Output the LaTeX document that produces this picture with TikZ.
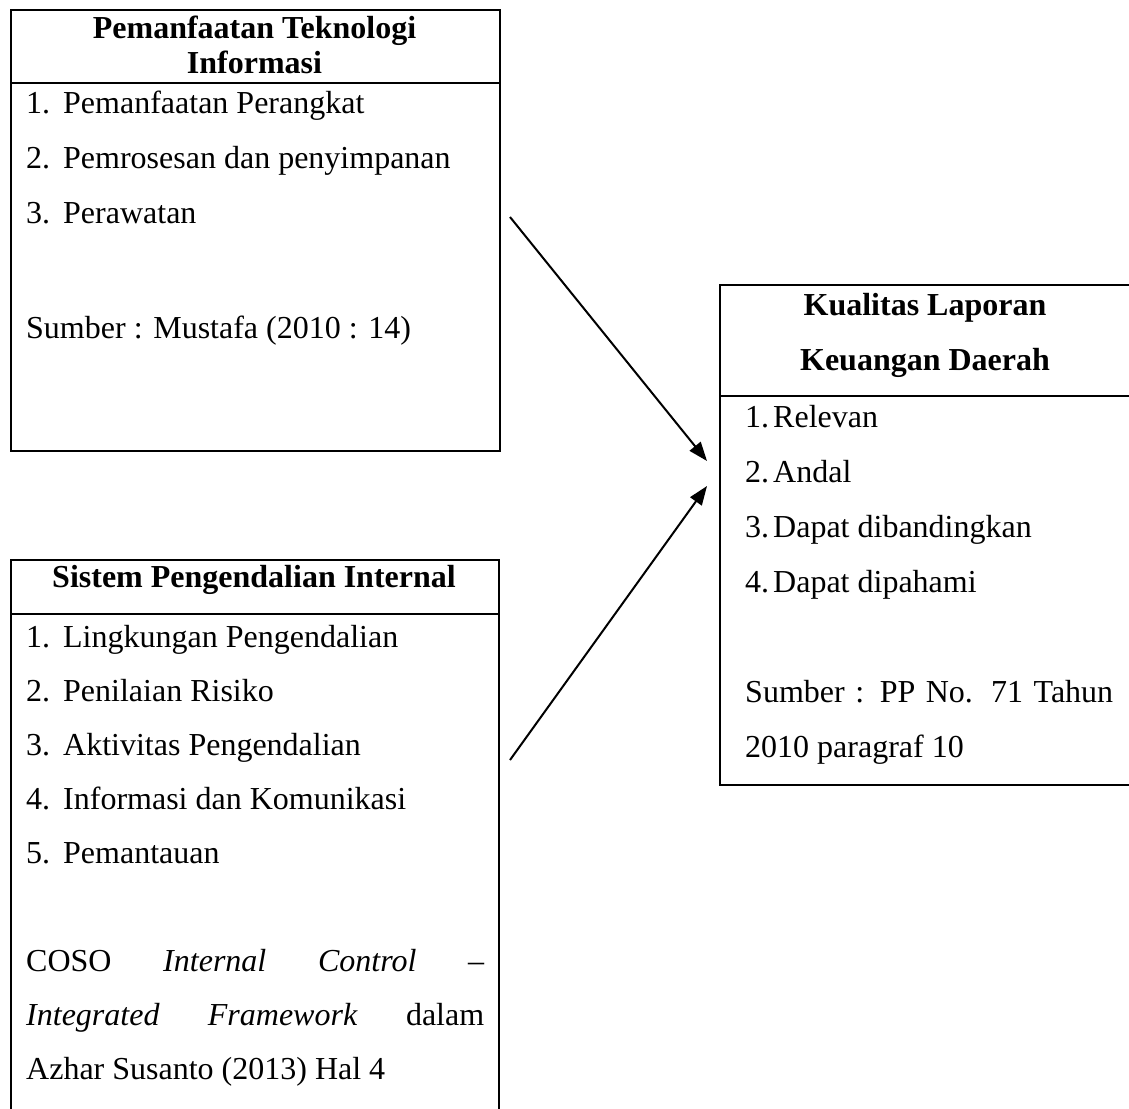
\documentclass[tikz,border=0pt]{standalone}
\usepackage{fontspec}
\setmainfont{Liberation Serif}
\usetikzlibrary{arrows.meta}
\begin{document}
\begin{tikzpicture}[x=1pt,y=-1pt,
  box/.style={draw,line width=2pt,rectangle,inner sep=0pt,anchor=north west},
  divline/.style={line width=2pt},
  txt/.style={inner sep=0pt,anchor=base west,font=\fontsize{32}{38}\selectfont},
  ttl/.style={inner sep=0pt,anchor=base,font=\fontsize{32}{38}\selectfont\bfseries},
  arr/.style={line width=2pt,-{Triangle[length=19pt,width=14pt]}}]
\useasboundingbox (0,0) rectangle (1129,1108);
\begin{scope}
\clip (0,0) rectangle (1129,1108);
% boxes
\node[box,minimum width=489pt,minimum height=441pt] (ti) at (10,9) {};
\node[box,minimum width=488pt,minimum height=581pt] (spi) at (10,559) {};
\node[box,minimum width=420pt,minimum height=500pt] (klk) at (719,284) {};
\draw[divline] ([yshift=-74pt]ti.north west) -- ([yshift=-74pt]ti.north east);
\draw[divline] ([yshift=-55pt]spi.north west) -- ([yshift=-55pt]spi.north east);
\draw[divline] ([yshift=-112pt]klk.north west) -- ([yshift=-112pt]klk.north east);
\end{scope}
% top-left box texts
\node[ttl] (ti-t1) at (254.5,38) {Pemanfaatan Teknologi};
\node[ttl] (ti-t2) at (254.5,74) {Informasi};
\node[txt] (ti-1) at (26,113) {\makebox[37pt][l]{1.}Pemanfaatan Perangkat};
\node[txt] (ti-2) at (26,168) {\makebox[37pt][l]{2.}Pemrosesan dan penyimpanan};
\node[txt] (ti-3) at (26,223) {\makebox[37pt][l]{3.}Perawatan};
\node[txt] (ti-s) at (26,338) {Sumber : Mustafa (2010 : 14)};
% bottom-left box texts
\node[ttl] (spi-t) at (254,587) {Sistem Pengendalian Internal};
\node[txt] (spi-1) at (26,647) {\makebox[37pt][l]{1.}Lingkungan Pengendalian};
\node[txt] (spi-2) at (26,701) {\makebox[37pt][l]{2.}Penilaian Risiko};
\node[txt] (spi-3) at (26,755) {\makebox[37pt][l]{3.}Aktivitas Pengendalian};
\node[txt] (spi-4) at (26,809) {\makebox[37pt][l]{4.}Informasi dan Komunikasi};
\node[txt] (spi-5) at (26,863) {\makebox[37pt][l]{5.}Pemantauan};
\node[txt] (spi-s1) at (26,971) {\makebox[458pt][s]{COSO \textit{Internal} \textit{Control} –}};
\node[txt] (spi-s2) at (26,1025) {\makebox[458pt][s]{\textit{Integrated} \textit{Framework} dalam}};
\node[txt] (spi-s3) at (26,1079) {Azhar Susanto (2013) Hal 4};
% right box texts
\node[ttl] (klk-t1) at (925,315) {Kualitas Laporan};
\node[ttl] (klk-t2) at (925,370) {Keuangan Daerah};
\node[txt] (klk-1) at (745,427) {\makebox[28pt][l]{1.}Relevan};
\node[txt] (klk-2) at (745,482) {\makebox[28pt][l]{2.}Andal};
\node[txt] (klk-3) at (745,537) {\makebox[28pt][l]{3.}Dapat dibandingkan};
\node[txt] (klk-4) at (745,592) {\makebox[28pt][l]{4.}Dapat dipahami};
\node[txt] (klk-s1) at (745,702) {\makebox[368pt][s]{Sumber : PP No. 71 Tahun}};
\node[txt] (klk-s2) at (745,757) {2010 paragraf 10};
% arrows
\coordinate (a1s) at (510,217);
\coordinate (a1e) at (707,461);
\coordinate (a2s) at (510,760);
\coordinate (a2e) at (707,486);
\draw[arr] (a1s) -- (a1e);
\draw[arr] (a2s) -- (a2e);
\end{tikzpicture}
\end{document}
